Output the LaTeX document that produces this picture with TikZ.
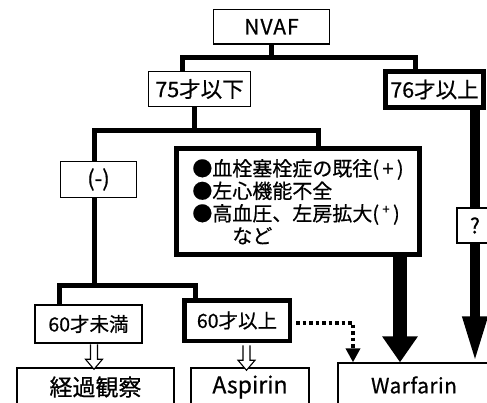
\documentclass[tikz,border=0pt]{standalone}
\usepackage{fontspec}
\setmainfont{Noto Sans CJK JP}[FakeBold=0.6]
\usetikzlibrary{arrows.meta}
\pgfdeclarelayer{bg}
\pgfsetlayers{bg,main}
\begin{document}
\begin{tikzpicture}[x=1pt,y=-1pt,
  thinbox/.style={draw=black, fill=white, line width=1.3pt, inner sep=0pt},
  thickbox/.style={draw=black, fill=white, line width=5pt, inner sep=0pt},
  conn/.style={line width=5pt, line join=miter},
  hollowarr/.pic={\draw[line width=1.1pt, fill=white, line join=miter]
    (-3.5,0) -- (-3.5,15) -- (-8.5,15) -- (0,25) -- (8.5,15) -- (3.5,15) -- (3.5,0);}
]
\useasboundingbox (0,0) rectangle (487,403);
\clip (0,0) rectangle (487,403);
% nodes
\node[thinbox, minimum width=116pt, minimum height=34.5pt,
  font=\fontsize{21}{21}\selectfont\addfontfeature{LetterSpace=5}] (nvaf) at (271.5,26.75) {NVAF};
\node[thinbox, minimum width=102pt, minimum height=35pt,
  font=\fontsize{21.5}{21.5}\selectfont] (n75) at (199.5,89) {75才以下};
\node[thickbox, minimum width=98pt, minimum height=36pt,
  font=\fontsize{21.5}{21.5}\selectfont] (n76) at (434.5,89.5) {76才以上};
\node[thinbox, minimum width=76pt, minimum height=36pt,
  font=\fontsize{22}{22}\selectfont] (neg) at (98.5,179.5) {(-)};
\node[thickbox, minimum width=243pt, minimum height=105.5pt, align=left,
  font=\fontsize{20}{22.5}\selectfont] (cond) at (298,201.75)
  {●血栓塞栓症の既往(\,+\,)\\●左心機能不全\\●高血圧、左房拡大(\,\raisebox{.35em}{\fontsize{13}{13}\selectfont +}\,)\\\hspace*{2em}など};
\node[thinbox, minimum width=36pt, minimum height=35pt,
  font=\fontsize{21}{21}\selectfont] (q) at (475,225.5) {?};
\node[thinbox, minimum width=107pt, minimum height=38pt,
  font=\fontsize{19.5}{19.5}\selectfont] (u60) at (88.5,324) {60才未満};
\node[thinbox, line width=4.5pt, minimum width=105.5pt, minimum height=40.5pt,
  font=\fontsize{19.5}{19.5}\selectfont] (o60) at (237,320.5) {60才以上};
\node[thinbox, minimum width=157pt, minimum height=38pt,
  font=\fontsize{23}{23}\selectfont] (keika) at (95.5,387) {経過観察};
\node[thinbox, minimum width=152pt, minimum height=44pt,
  font=\fontsize{21}{21}\selectfont\addfontfeature{LetterSpace=2}] (warf) at (414,385) {Warfarin};
\node[thinbox, minimum width=118pt, minimum height=38pt,
  font=\fontsize{23}{23}\selectfont] (asp) at (250,387) {Aspirin};
% connectors
\begin{pgfonlayer}{bg}
\draw[conn] (nvaf.south) -- (nvaf.south |- 0,58);
\draw[conn] ([xshift=-17.5pt]n75.north) |- ([xshift=-19.5pt]n76.north |- 0,58) -- ([xshift=-19.5pt]n76.north);
\draw[conn] ([xshift=-5.5pt]n75.south) -- ([xshift=-5.5pt]n75.south |- 0,130.5);
\coordinate (s2) at (94,285.5);
\draw[conn] (s2) |- ([xshift=20pt]cond.north |- 0,130.5) -- ([xshift=20pt]cond.north);
\draw[conn] ([xshift=-29.5pt]u60.north) |- ([xshift=-42pt]o60.north |- s2) -- ([xshift=-42pt]o60.north);
\draw[line width=9.5pt, -{Triangle[width=23pt,length=46pt]}] ([xshift=40.5pt]n76.south) -- ([xshift=61pt]warf.north);
\draw[line width=14pt, -{Triangle[width=34pt,length=26pt]}] ([xshift=102pt]cond.south) -- ([xshift=-14pt]warf.north);
\draw[line width=3.5pt, dash pattern=on 3.5pt off 3pt, -{Triangle[width=14pt,length=14pt]}]
  ([xshift=4pt,yshift=-2.5pt]o60.east) -| ([xshift=-61pt]warf.north);
\end{pgfonlayer}
\pic at ([xshift=5.5pt,yshift=-0.6pt]u60.south) {hollowarr};
\pic at ([xshift=9.5pt,yshift=-2.25pt]o60.south) {hollowarr};
\end{tikzpicture}
\end{document}
